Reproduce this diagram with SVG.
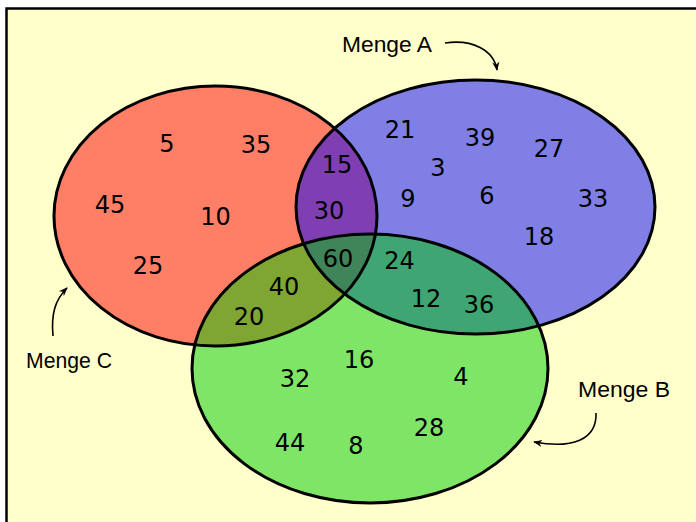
<svg xmlns="http://www.w3.org/2000/svg" width="696" height="522" viewBox="0 0 696 522">
<defs>
<style>
.num{font-family:"DejaVu Sans",sans-serif;font-size:24px;fill:#000;text-anchor:middle}
.lbl{font-family:"Liberation Sans",sans-serif;font-size:22px;fill:#000}
.set{fill-opacity:0.5;stroke:none}
.edge{fill:none;stroke:#000;stroke-width:3}
.conn{fill:none;stroke:#000;stroke-width:1.6}
</style>
<marker id="ah" viewBox="0 0 10 10" refX="9" refY="5" markerWidth="9" markerHeight="9" markerUnits="userSpaceOnUse" orient="auto">
<path d="M0,1 L10,5 L0,9 L3,5 Z" fill="#000"/>
</marker>
</defs>
<rect x="0" y="0" width="696" height="522" fill="#fff"/>
<rect x="6.5" y="8.5" width="700" height="530" fill="#FFFFCC" stroke="#000" stroke-width="2.5"/>

<g id="fills">
<ellipse class="set" cx="215.5" cy="216" rx="161.5" ry="130" fill="#FF0000"/>
<ellipse class="set" cx="475.5" cy="207" rx="179.5" ry="127" fill="#0000FF"/>
<ellipse class="set" cx="370" cy="368.5" rx="178" ry="134.5" fill="#00CC00"/>
</g>
<g id="menge-c">
<ellipse class="edge" cx="215.5" cy="216" rx="161.5" ry="130"/>
</g>
<g id="menge-a">
<ellipse class="edge" cx="475.5" cy="207" rx="179.5" ry="127"/>
</g>
<g id="menge-b">
<ellipse class="edge" cx="370" cy="368.5" rx="178" ry="134.5"/>
</g>

<g id="numbers">
<text class="num" x="167" y="152">5</text>
<text class="num" x="256" y="153">35</text>
<text class="num" x="110" y="213">45</text>
<text class="num" x="215.5" y="225">10</text>
<text class="num" x="148" y="274">25</text>
<text class="num" x="337" y="173">15</text>
<text class="num" x="329" y="219">30</text>
<text class="num" x="338" y="267">60</text>
<text class="num" x="400" y="138">21</text>
<text class="num" x="480" y="146">39</text>
<text class="num" x="549" y="157">27</text>
<text class="num" x="438" y="176">3</text>
<text class="num" x="408" y="207">9</text>
<text class="num" x="487" y="204">6</text>
<text class="num" x="593" y="207">33</text>
<text class="num" x="539" y="245">18</text>
<text class="num" x="399.5" y="269">24</text>
<text class="num" x="426" y="307">12</text>
<text class="num" x="479" y="313">36</text>
<text class="num" x="284" y="295">40</text>
<text class="num" x="249" y="325">20</text>
<text class="num" x="359" y="368">16</text>
<text class="num" x="295" y="387">32</text>
<text class="num" x="461" y="385">4</text>
<text class="num" x="429" y="436">28</text>
<text class="num" x="290" y="451">44</text>
<text class="num" x="356" y="454">8</text>
</g>

<g id="label-a"><text class="lbl" x="342" y="52" textLength="90" lengthAdjust="spacingAndGlyphs">Menge A</text></g>
<g id="label-b"><text class="lbl" x="578" y="397" textLength="92" lengthAdjust="spacingAndGlyphs">Menge B</text></g>
<g id="label-c"><text class="lbl" x="26" y="368" textLength="86" lengthAdjust="spacingAndGlyphs">Menge C</text></g>

<g id="connectors">
<path class="conn" d="M445,43 C472,39 494,50 497,70" marker-end="url(#ah)"/>
<path class="conn" d="M596,413 C597,440 572,449 534,442" marker-end="url(#ah)"/>
<path class="conn" d="M53,336 C51,314 55,300 67,288" marker-end="url(#ah)"/>
</g>
</svg>
